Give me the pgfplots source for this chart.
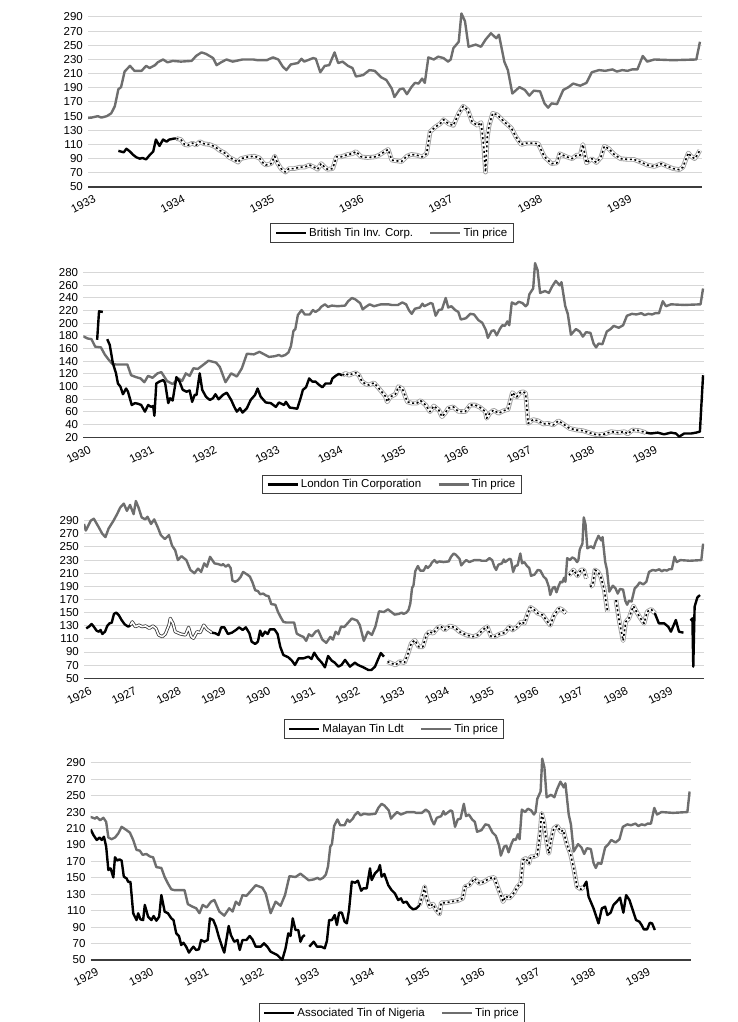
\documentclass[border=0pt]{standalone}
\usepackage{fontspec}
\setmainfont{Liberation Sans}
\usepackage{pgfplots}
\usepackage{pgfplotstable}
\pgfplotsset{compat=1.18}
\definecolor{tinc}{RGB}{110,110,110}
\definecolor{gridc}{RGB}{215,215,215}
\definecolor{axc}{RGB}{60,60,60}
\definecolor{legc}{RGB}{60,60,60}
\definecolor{dblc}{RGB}{160,160,160}

\pgfplotstableread{
x y
1926.00 285
1926.04 275
1926.15 290
1926.22 293
1926.33 280
1926.41 270
1926.48 265
1926.55 278
1926.66 290
1926.74 300
1926.81 310
1926.89 316
1926.96 305
1927.03 314
1927.11 300
1927.16 320
1927.22 310
1927.29 295
1927.37 292
1927.42 296
1927.50 285
1927.57 292
1927.65 280
1927.72 268
1927.81 262
1927.90 268
1927.97 252
1928.04 245
1928.10 230
1928.18 236
1928.29 230
1928.38 215
1928.47 210
1928.55 217
1928.62 212
1928.69 225
1928.75 220
1928.82 235
1928.92 225
1929.00 224
1929.08 222
1929.11 224
1929.17 220
1929.23 223
1929.28 218
1929.32 199
1929.38 197
1929.44 199
1929.50 204
1929.56 212
1929.65 208
1929.71 205
1929.77 196
1929.83 184
1929.89 183
1929.94 178
1930.01 179
1930.07 176
1930.13 175
1930.19 163
1930.28 162
1930.34 151
1930.40 143
1930.46 136
1930.52 135
1930.70 135
1930.76 118
1930.84 115
1930.91 113
1930.97 107
1931.03 117
1931.10 114
1931.18 121
1931.24 123
1931.33 109
1931.42 104
1931.51 113
1931.57 109
1931.63 121
1931.69 117
1931.75 129
1931.82 128
1931.90 134
1931.99 141
1932.11 138
1932.17 131
1932.26 107
1932.35 121
1932.44 116
1932.52 129
1932.60 152
1932.71 151
1932.80 155
1932.95 147
1933.04 148
1933.11 150
1933.15 148
1933.21 150
1933.26 154
1933.30 164
1933.34 188
1933.37 191
1933.41 213
1933.47 221
1933.52 214
1933.60 214
1933.65 221
1933.69 218
1933.75 222
1933.78 226
1933.84 230
1933.89 226
1933.95 228
1934.04 227
1934.16 228
1934.21 235
1934.27 240
1934.32 238
1934.40 232
1934.44 222
1934.49 226
1934.55 230
1934.62 227
1934.73 230
1934.85 230
1934.90 229
1935.00 229
1935.07 233
1935.13 230
1935.18 220
1935.22 215
1935.27 223
1935.35 225
1935.39 231
1935.42 227
1935.52 232
1935.55 231
1935.60 212
1935.65 221
1935.70 222
1935.76 240
1935.80 225
1935.85 227
1935.91 221
1935.96 218
1936.00 206
1936.08 208
1936.15 215
1936.21 214
1936.28 205
1936.34 201
1936.40 189
1936.43 177
1936.49 188
1936.53 189
1936.57 181
1936.62 191
1936.66 197
1936.70 196
1936.74 203
1936.77 197
1936.81 233
1936.87 230
1936.92 234
1936.98 232
1937.03 227
1937.06 230
1937.09 246
1937.15 255
1937.18 295
1937.22 284
1937.26 248
1937.34 251
1937.40 248
1937.45 258
1937.51 267
1937.57 260
1937.60 265
1937.66 227
1937.70 215
1937.75 182
1937.83 191
1937.89 187
1937.94 179
1937.99 186
1938.06 185
1938.11 168
1938.15 162
1938.19 168
1938.25 167
1938.32 187
1938.38 191
1938.43 196
1938.51 193
1938.58 197
1938.64 212
1938.72 215
1938.79 214
1938.87 216
1938.92 213
1938.98 215
1939.04 214
1939.09 216
1939.15 216
1939.21 235
1939.26 227
1939.34 230
1939.55 229
1939.81 230
1939.85 255
}\tin

% ---------- British Tin Inv. Corp.
\pgfplotstableread{
x y
1933.34 101
1933.37 100
1933.40 99
1933.43 104
1933.47 100
1933.50 96
1933.54 92
1933.58 90
1933.61 91
1933.65 89
1933.69 95
1933.73 100
1933.76 117
1933.80 108
1933.84 117
1933.88 114
1933.91 117
1933.97 118.5
1933.99 118.5
}\btA
\pgfplotstableread{
x y
1933.99 118.5
1934.04 117
1934.08 110
1934.12 109
1934.17 112
1934.21 109
1934.25 114
1934.30 111
1934.36 110
1934.42 107
1934.47 102
1934.53 98
1934.58 92
1934.64 88
1934.68 85
1934.71 90
1934.79 92.5
1934.86 93.5
1934.92 91
1934.96 84
1934.99 81
1935.05 83
1935.09 93.5
1935.12 84
1935.16 76
1935.21 71
1935.25 76
1935.31 76
1935.37 78
1935.42 78
1935.48 81
1935.53 78
1935.57 75
1935.61 83
1935.65 78
1935.68 75
1935.74 76
1935.78 92.5
1935.83 92.5
1935.91 96
1935.96 97
1936.00 100
1936.06 92.5
1936.13 91.6
1936.21 92.5
1936.26 95
1936.32 100
1936.36 103
1936.40 88
1936.45 87
1936.51 86
1936.57 93.5
1936.62 96
1936.68 95
1936.74 92.5
1936.79 97
1936.83 128
1936.89 135
1936.94 139
1936.98 145
1937.04 139
1937.09 137
1937.15 154
1937.20 164
1937.25 159
1937.30 142
1937.36 137
1937.40 141
1937.43 107
1937.45 71
1937.47 121
1937.49 137
1937.53 154
1937.58 152
1937.66 142
1937.74 133
1937.79 121
1937.85 110
1937.91 112
1937.98 112
1938.04 111
1938.11 92.5
1938.19 83
1938.25 84
1938.28 97
1938.36 92.5
1938.42 90
1938.47 95
1938.51 95
1938.54 110
1938.58 84
1938.64 90
1938.69 84.5
1938.74 91.6
1938.78 107.6
1938.83 104
1938.89 96
1938.96 90
1939.04 89
1939.11 89
1939.19 85
1939.26 81
1939.34 79
1939.42 83
1939.47 80
1939.55 76
1939.62 74.5
1939.66 78
1939.72 98
1939.75 93.5
1939.79 90
1939.82 95
1939.85 102
}\btB

% ---------- London Tin Corporation
\pgfplotstableread{
x y
1930.22 174
1930.25 219
1930.31 218
}\lA
\pgfplotstableread{
x y
1930.38 175
1930.42 166
1930.47 137
1930.52 121
1930.55 105
1930.59 100
1930.63 88
1930.68 97
1930.71 92
1930.77 71
1930.82 74
1930.87 73
1930.92 71
1930.98 60.5
1931.03 71
1931.08 68
1931.11 69.5
1931.13 54
1931.16 105
1931.21 108
1931.27 110.5
1931.30 106
1931.35 74
1931.38 81.6
1931.42 78
1931.48 115
1931.53 108
1931.58 95
1931.64 92
1931.69 94
1931.73 76
1931.77 87
1931.80 87
1931.85 121
1931.89 95
1931.95 84
1932.01 79
1932.06 81.6
1932.10 88
1932.15 80
1932.22 87
1932.28 90.5
1932.35 79
1932.40 68
1932.44 60.5
1932.49 66
1932.53 59
1932.60 66
1932.66 79
1932.73 87
1932.77 97
1932.82 84
1932.90 75
1932.98 74
1933.06 68
1933.11 75
1933.19 71
1933.22 76
1933.28 67
1933.35 66
1933.40 65
1933.46 84
1933.49 95
1933.54 99
1933.59 113
1933.64 108
1933.69 108
1933.75 102.6
1933.80 99
1933.85 105
1933.93 105
1933.96 113
1934.01 117
1934.06 120
1934.12 118
}\lB
\pgfplotstableread{
x y
1934.12 118
1934.17 121
1934.22 118
1934.27 120
1934.33 122
1934.38 118
1934.43 108
1934.49 104
1934.54 102.6
1934.62 106
1934.70 97
1934.80 85
1934.83 76
1934.88 84
1934.96 88
1935.01 100
1935.07 97
1935.15 76
1935.22 74
1935.30 74
1935.36 78
1935.44 71
1935.51 60.5
1935.57 69.5
1935.65 63
1935.70 52.6
1935.75 58
1935.80 66
1935.88 68
1935.96 61
1936.07 60.5
1936.15 71
1936.23 71
1936.31 67
1936.39 60.5
1936.41 50
1936.46 58
1936.52 63
1936.60 58
1936.68 62
1936.75 64
1936.82 90.5
1936.89 84
1936.94 90.5
1936.99 92
1937.03 89.5
1937.07 42
1937.15 48
1937.23 46
1937.31 41
1937.39 42
1937.47 39.5
1937.55 46
1937.63 41
1937.73 34
1937.84 31.6
1937.94 30.5
1938.08 26
1938.18 23.7
1938.29 25.3
1938.39 29
1938.50 27.4
1938.60 29
1938.65 25.3
1938.73 31.6
1938.84 30.5
1938.94 27.4
}\lC
\pgfplotstableread{
x y
1938.94 27.4
1939.02 26
1939.13 27.4
1939.23 24.7
1939.34 27.4
1939.42 26
1939.47 21
1939.55 26
1939.66 26
1939.74 27.4
1939.80 29
1939.85 118
}\lD

% ---------- Malayan Tin
\pgfplotstableread{
x y
1926.05 126
1926.11 128.6
1926.17 132.7
1926.22 128.6
1926.28 122.6
1926.33 121
1926.37 123.6
1926.41 117.5
1926.47 121
1926.52 129.7
1926.57 133.7
1926.62 134.7
1926.67 148
1926.72 150
1926.78 146
1926.84 138.8
1926.91 132.2
1926.99 128.6
1927.04 131
}\mA
\pgfplotstableread{
x y
1927.04 131
1927.08 136
1927.15 128.6
1927.23 131
1927.30 128.6
1927.38 129.7
1927.46 126
1927.54 129.7
1927.61 126
1927.67 116
1927.75 113.4
1927.82 117.5
1927.90 131
1927.93 141.3
1927.99 133.7
1928.04 121
1928.16 117.5
1928.27 116
1928.34 127.6
1928.40 113.4
1928.45 111
1928.53 121
1928.60 119.5
1928.68 131
1928.75 124.6
1928.86 119.5
}\mB
\pgfplotstableread{
x y
1928.86 119.5
1928.94 118.5
1929.01 116
1929.07 127.6
1929.14 127.6
1929.22 117.5
1929.31 119.5
1929.40 123.6
1929.47 127.6
1929.55 123.6
1929.62 127.6
1929.70 118.5
1929.75 105.8
1929.83 102.3
1929.89 105.8
1929.94 122.6
1929.99 114.4
1930.05 121
1930.11 117.5
1930.16 124.6
1930.26 124.6
1930.33 117.5
1930.39 98.2
1930.46 85.5
1930.57 82
1930.65 77
1930.72 70.3
1930.80 80.4
1930.91 80.4
1931.02 83
1931.09 79.4
1931.15 89
1931.23 80.4
1931.32 73.8
1931.39 66.7
1931.46 84
1931.54 77
1931.61 73.8
1931.69 67.8
1931.76 70.3
1931.84 78
1931.95 67.8
1932.06 73.8
1932.13 70.3
1932.25 66.7
1932.36 62.7
1932.43 62.7
1932.51 67.8
1932.57 77.5
1932.64 88.5
1932.71 83
}\mC
\pgfplotstableread{
x y
1932.79 75.4
1932.88 72.8
1932.97 70.3
1933.06 75.4
1933.17 73.8
1933.25 88
1933.32 103
1933.40 108
1933.49 98
1933.58 98
1933.66 116
1933.73 121
1933.81 118.5
1933.92 127.6
1933.99 128.6
1934.07 123.6
1934.18 129.7
1934.29 127.6
1934.40 121
1934.55 116
1934.70 113.4
1934.81 116
1934.92 123.6
1935.02 128.6
1935.11 113.4
1935.19 113.4
1935.30 117.5
1935.41 119.5
1935.52 128.6
1935.59 123.6
1935.69 128.6
1935.78 136
1935.85 133.7
1935.93 149
1935.99 158
1936.08 154
1936.15 149
1936.26 146.4
1936.37 136
1936.43 131
1936.52 146.4
1936.63 156.6
1936.71 154
1936.78 149
}\mD
\pgfplotstableread{
x y
1936.85 207
1936.95 215
1937.04 206
1937.12 215
1937.18 215
1937.24 202
}\mE
\pgfplotstableread{
x y
1937.32 189.5
1937.38 192
1937.43 215
1937.50 212
1937.56 204.8
1937.64 184.5
1937.71 151.5
}\mF
\pgfplotstableread{
x y
1937.90 169
1937.97 138.8
1938.06 107.3
1938.12 136
1938.19 141.3
1938.29 160
1938.38 149
1938.45 141.3
1938.53 133.7
1938.60 151.5
1938.69 155
1938.77 149
}\mG
\pgfplotstableread{
x y
1938.77 149
1938.86 133.7
1938.98 133.7
1939.07 128.6
1939.13 121
1939.24 138.8
1939.31 121
1939.41 119.5
}\mH
\pgfplotstableread{
x y
1939.57 137.8
1939.61 141.3
1939.63 67.8
1939.66 159
1939.72 173
1939.78 176.8
}\mI

% ---------- Associated Tin of Nigeria
\pgfplotstableread{
x y
1929.00 208.9
1929.05 202
1929.11 196
1929.16 199
1929.20 196
1929.24 200
1929.28 188
1929.32 159.5
1929.36 161.5
1929.41 150.5
1929.44 175
1929.48 171
1929.52 172.4
1929.56 171
1929.60 151.4
1929.65 149.3
1929.68 145
1929.72 145
1929.77 106.8
1929.83 98.6
1929.86 106.8
1929.90 99.5
1929.95 98.6
1929.98 117
1930.04 102.7
1930.10 98.6
1930.14 103.5
1930.19 97.8
1930.24 102.7
1930.28 129
1930.34 108.8
1930.40 106.8
1930.46 100.7
1930.50 98.6
1930.55 82.4
1930.60 79
1930.64 68.2
1930.68 71
1930.73 66.2
1930.78 59
1930.82 63
1930.86 66.2
1930.91 62.2
1930.96 63
1931.00 74.3
1931.06 72.3
1931.12 74.3
1931.16 100.7
1931.22 98.6
1931.27 90.5
1931.32 78.4
1931.38 66.2
1931.42 59
1931.50 91.4
1931.54 80.4
1931.60 72.3
1931.66 74.3
1931.70 62.2
1931.75 74.3
1931.82 74.3
1931.88 79.2
1931.93 75.1
1931.99 66.2
1932.08 66.2
1932.14 70.3
1932.20 66.2
1932.26 60.1
1932.32 58.1
1932.38 56.1
1932.44 52
1932.47 50
1932.53 64.2
1932.58 82.4
1932.62 79.2
1932.66 100.7
1932.71 86.5
1932.76 86.5
1932.80 72.3
1932.84 78.4
1932.88 80.4
}\aA
\pgfplotstableread{
x y
1932.96 66.2
1933.04 72.3
1933.10 66.2
1933.18 66.2
1933.24 64.2
1933.28 73.5
1933.32 98.6
1933.37 98.6
1933.42 104.7
1933.46 92.6
1933.50 107.6
1933.55 107.6
1933.60 96.6
1933.64 94.6
1933.68 110.8
1933.73 145.3
1933.79 144
1933.84 146.5
1933.90 134.3
1933.94 137.2
1934.00 137.2
1934.06 161.5
1934.09 147.3
1934.15 155.4
1934.21 159.5
1934.24 165.5
1934.27 151.4
1934.32 154.6
1934.39 141.2
1934.45 135.1
1934.51 131.1
1934.57 123
1934.62 125
1934.66 119.7
1934.72 121
1934.78 114.9
1934.84 111.6
1934.90 112.8
1934.96 116.9
}\aB
\pgfplotstableread{
x y
1934.96 116.9
1935.02 131.1
1935.05 139.2
1935.08 127
1935.14 114.9
1935.20 118.1
1935.26 110.8
1935.32 106
1935.35 119.7
1935.44 119.7
1935.53 121
1935.65 122.2
1935.74 125
1935.78 139.2
1935.86 141.2
1935.95 149.3
1936.04 143.2
1936.13 145.3
1936.22 149.3
1936.31 150.5
1936.37 139.2
1936.43 129
1936.47 121
1936.52 127.8
1936.58 125
1936.62 127.8
1936.67 131.9
1936.73 139.2
1936.79 143.2
1936.83 171.6
1936.88 173.6
1936.94 167.6
1936.97 175.7
1937.03 175.7
1937.09 177.7
1937.14 204
1937.17 228.4
1937.21 218.2
1937.25 198
1937.30 179.7
1937.34 195.9
1937.39 210.1
1937.45 213
1937.52 206.1
1937.56 208.1
1937.63 189.9
1937.69 179.7
1937.75 161.5
1937.81 139.2
1937.88 136
1937.93 139.2
}\aC
\pgfplotstableread{
x y
1937.93 139.2
1937.98 145.3
1938.02 127
1938.11 112.8
1938.20 94.6
1938.26 112.8
1938.32 114.9
1938.36 104.7
1938.42 107.6
1938.47 116.9
1938.53 121
1938.59 125.8
1938.65 107.6
1938.70 129
1938.76 123
1938.82 110.8
1938.88 98.6
1938.94 96.6
1938.98 92.6
1939.02 87.3
1939.08 87.3
1939.13 95.4
1939.17 94.6
1939.22 86.5
}\aD

\newcommand\fs{\fontsize{11.5}{13}\selectfont}
\pgfplotsset{
  panel/.style={
    scale only axis, anchor=south west,
    axis x line*=bottom, axis y line*=left,
    y axis line style={draw=none},
    x axis line style={draw=axc, line width=1.3pt, -},
    ymajorgrids, grid style={draw=gridc, line width=1pt},
    major tick length=0pt, tick style={draw=none},
    ticklabel style={font=\fs},
    /pgf/number format/assume math mode=true,
    xticklabel style={rotate=27, anchor=north east, inner sep=0pt, xshift=1pt, yshift=-9pt},
    yticklabel style={inner sep=2pt, xshift=-3pt},
    xmax=1939.87,
    legend columns=2,
    legend style={draw=legc, line width=0.9pt, font=\fs, anchor=center,
      inner xsep=4pt, inner ysep=2.2pt,
      /tikz/every even column/.append style={column sep=14pt}},
    legend image code/.code={\draw[##1] (0pt,0pt) -- (30pt,0pt);},
  },
  tinline/.style={color=tinc, line width=2.4pt, line join=round, forget plot},
  stk/.style={black, line width=2.4pt, line join=round, forget plot},
  dstk/.style={black, line width=1.6pt, line join=round, dash pattern=on 2pt off 2.6pt,
    preaction={draw=dblc, line width=4.6pt, solid},
    preaction={draw=white, line width=2.8pt, solid}, forget plot},
  hstk/.style={white, line width=1.6pt, line join=round,
    preaction={draw=black!80, line width=3.2pt}, forget plot},
}

\begin{document}
\begin{tikzpicture}
\useasboundingbox (0pt,0pt) rectangle (737pt,-1022pt);

% Panel 1
\begin{axis}[panel, at={(88pt,-187pt)}, width=613.7pt, height=177.1pt,
  xmin=1933, ymin=50, ymax=300, ytick={50,70,...,290},
  xtick={1933,...,1939}, xticklabels={1933,1934,1935,1936,1937,1938,1939},
  legend style={at={(axis description cs:0.4954,-0.2597)}}]
\addlegendimage{black, line width=2.4pt}
\addlegendentry{British Tin Inv. Corp.}
\addlegendimage{tinc, line width=2.4pt}
\addlegendentry{Tin price}
\addplot[tinline] table {\tin};
\addplot[stk] table {\btA};
\addplot[dstk] table {\btB};
\end{axis}

% Panel 2
\begin{axis}[panel, at={(83.3pt,-437.3pt)}, width=621pt, height=177.3pt,
  xmin=1930, ymin=20, ymax=300, ytick={20,40,...,280},
  xtick={1930,...,1939}, xticklabels={1930,1931,1932,1933,1934,1935,1936,1937,1938,1939},
  legend style={at={(axis description cs:0.497,-0.266)}}]
\addlegendimage{black, line width=2.4pt}
\addlegendentry{London Tin Corporation}
\addlegendimage{tinc, line width=2.4pt}
\addlegendentry{Tin price}
\addplot[tinline] table {\tin};
\addplot[stk] table {\lA};
\addplot[stk] table {\lB};
\addplot[dstk] table {\lC};
\addplot[stk] table {\lD};
\end{axis}

% Panel 3
\begin{axis}[panel, at={(84pt,-678.3pt)}, width=620pt, height=180.6pt,
  xmin=1926, ymin=50, ymax=325, ytick={50,70,...,290},
  xtick={1926,...,1939}, xticklabels={1926,1927,1928,1929,1930,1931,1932,1933,1934,1935,1936,1937,1938,1939},
  legend style={at={(axis description cs:0.5,-0.2807)}}]
\addlegendimage{black, line width=2.4pt}
\addlegendentry{Malayan Tin Ldt}
\addlegendimage{tinc, line width=2.4pt}
\addlegendentry{Tin price}
\addplot[tinline] table {\tin};
\addplot[stk] table {\mA};
\addplot[hstk] table {\mB};
\addplot[stk] table {\mC};
\addplot[dstk] table {\mD};
\addplot[dstk] table {\mE};
\addplot[dstk] table {\mF};
\addplot[dstk] table {\mG};
\addplot[stk] table {\mH};
\addplot[stk] table {\mI};
\end{axis}

% Panel 4
\begin{axis}[panel, at={(90.7pt,-960pt)}, width=600pt, height=205.5pt,
  xmin=1929, ymin=50, ymax=300, ytick={50,70,...,290},
  xtick={1929,...,1939}, xticklabels={1929,1930,1931,1932,1933,1934,1935,1936,1937,1938,1939},
  legend style={at={(axis description cs:0.502,-0.258)}}]
\addlegendimage{black, line width=2.4pt}
\addlegendentry{Associated Tin of Nigeria}
\addlegendimage{tinc, line width=2.4pt}
\addlegendentry{Tin price}
\addplot[tinline] table {\tin};
\addplot[stk] table {\aA};
\addplot[stk] table {\aB};
\addplot[dstk] table {\aC};
\addplot[stk] table {\aD};
\end{axis}
\end{tikzpicture}
\end{document}
